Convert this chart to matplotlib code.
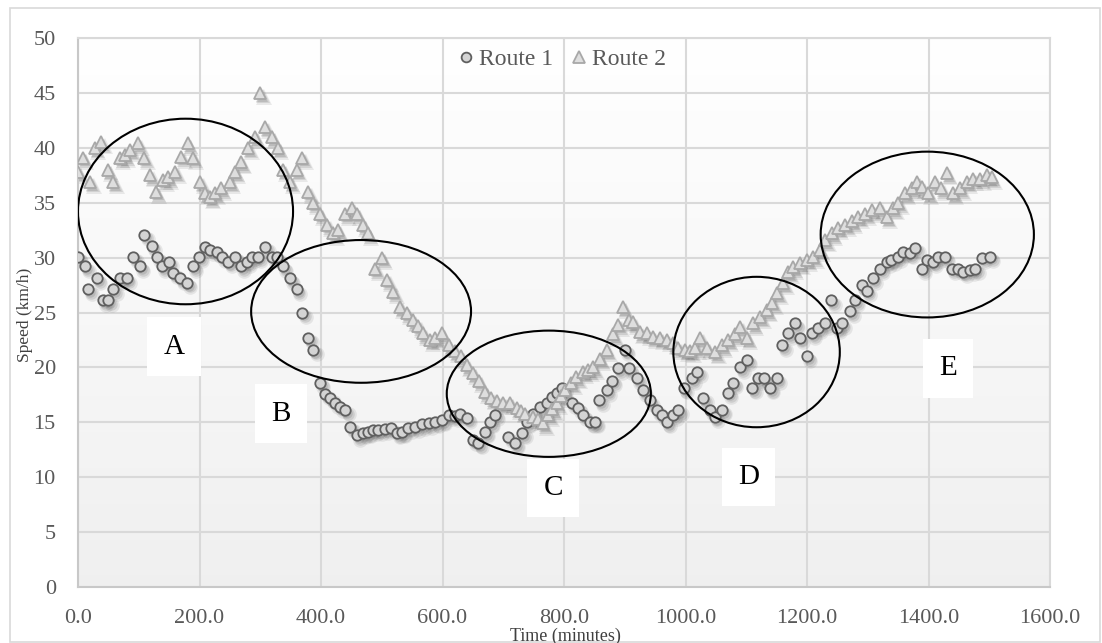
"""
speed profile of the two routes over the day
"""
import matplotlib

matplotlib.use("Agg")
import matplotlib.pyplot as plt
import matplotlib.transforms as mtransforms
import numpy as np
from matplotlib.lines import Line2D
from matplotlib.patches import Ellipse, Rectangle

# sample times (minutes) and speeds (km/h)
route1_time = [
    0, 12, 17, 31, 41, 50, 58, 69, 80, 91, 102, 109, 121, 130, 138, 149, 157,
    168, 179, 189, 199, 209, 217, 228, 237, 247, 258, 268, 278, 286, 296, 308,
    319, 327, 337, 349, 360, 369, 379, 387, 398, 407, 415, 423, 431, 440, 448,
    459, 469, 477, 486, 494, 505, 516, 525, 533, 544, 555, 566, 577, 588, 599,
    610, 620, 629, 640, 650, 659, 670, 678, 686, 708, 719, 731, 739, 749, 760,
    772, 780, 788, 797, 813, 823, 831, 843, 851, 858, 870, 879, 889, 900, 907,
    920, 930, 941, 953, 961, 969, 980, 988, 997, 1010, 1019, 1029, 1040, 1048,
    1060, 1070, 1078, 1090, 1101, 1110, 1119, 1130, 1139, 1150, 1159, 1169,
    1180, 1188, 1200, 1208, 1218, 1230, 1240, 1249, 1257, 1271, 1279, 1290,
    1298, 1308, 1320, 1331, 1339, 1349, 1358, 1369, 1378, 1389, 1397, 1407,
    1415, 1427, 1438, 1449, 1457, 1469, 1477, 1488, 1501,
]
route1_speed = [
    30.1, 29.2, 27.1, 28.1, 26.1, 26.1, 27.1, 28.1, 28.1, 30.1, 29.2, 32.1,
    31.1, 30.1, 29.2, 29.6, 28.6, 28.1, 27.7, 29.2, 30.1, 31.0, 30.7, 30.5,
    30.1, 29.6, 30.1, 29.2, 29.6, 30.1, 30.1, 31.0, 30.1, 30.1, 29.2, 28.1,
    27.1, 25.0, 22.7, 21.6, 18.6, 17.6, 17.2, 16.8, 16.4, 16.1, 14.6, 13.8,
    14.0, 14.1, 14.3, 14.3, 14.4, 14.5, 14.0, 14.1, 14.5, 14.6, 14.8, 14.9,
    15.0, 15.2, 15.7, 15.6, 15.8, 15.4, 13.4, 13.1, 14.1, 15.0, 15.7, 13.7,
    13.1, 14.0, 15.0, 15.8, 16.4, 16.8, 17.3, 17.7, 18.1, 16.8, 16.3, 15.7,
    15.0, 15.0, 17.0, 17.9, 18.8, 19.9, 21.6, 19.9, 19.0, 17.9, 17.0, 16.1,
    15.7, 15.0, 15.7, 16.1, 18.1, 19.0, 19.6, 17.2, 16.1, 15.5, 16.1, 17.7,
    18.6, 20.0, 20.7, 18.1, 19.0, 19.0, 18.1, 19.0, 22.0, 23.1, 24.0, 22.7,
    21.0, 23.1, 23.6, 24.0, 26.1, 23.6, 24.0, 25.1, 26.1, 27.5, 27.0, 28.1,
    29.0, 29.6, 29.8, 30.1, 30.5, 30.4, 30.9, 29.0, 29.8, 29.6, 30.1, 30.1,
    29.0, 29.0, 28.7, 28.9, 29.0, 30.0, 30.1,
]

route2_time = [
    0, 8, 20, 28, 38, 49, 58, 69, 77, 86, 99, 109, 119, 128, 140, 148, 160,
    170, 181, 189, 201, 209, 217, 225, 235, 250, 258, 268, 280, 291, 300, 308,
    319, 329, 337, 349, 360, 369, 379, 387, 398, 410, 420, 428, 440, 451, 459,
    469, 477, 489, 500, 509, 519, 530, 541, 551, 560, 568, 579, 588, 599, 610,
    620, 630, 640, 650, 660, 670, 680, 690, 700, 711, 722, 730, 736, 749, 758,
    766, 774, 781, 788, 795, 802, 812, 820, 831, 840, 848, 859, 870, 881, 889,
    897, 907, 914, 925, 936, 946, 958, 969, 980, 988, 999, 1008, 1016, 1024,
    1035, 1049, 1060, 1070, 1081, 1090, 1101, 1111, 1123, 1134, 1143, 1151,
    1161, 1169, 1177, 1188, 1200, 1210, 1221, 1230, 1241, 1251, 1263, 1274,
    1284, 1296, 1307, 1320, 1331, 1342, 1350, 1361, 1373, 1381, 1389, 1399,
    1410, 1421, 1430, 1440, 1452, 1463, 1473, 1485, 1496, 1504,
]
route2_speed = [
    37.8, 39.1, 36.9, 40.0, 40.5, 38.0, 36.9, 39.1, 39.3, 39.8, 40.4, 39.1,
    37.5, 36.0, 37.1, 37.3, 37.8, 39.2, 40.4, 39.1, 36.9, 35.9, 35.5, 35.9,
    36.3, 36.9, 37.8, 38.7, 40.0, 41.0, 45.0, 41.9, 41.0, 40.0, 38.0, 36.9,
    38.0, 39.1, 36.0, 35.0, 34.0, 33.0, 32.2, 32.5, 34.0, 34.5, 34.0, 33.0,
    32.2, 29.0, 30.0, 28.0, 26.9, 25.5, 25.0, 24.3, 23.8, 23.1, 22.5, 22.7,
    23.1, 22.0, 21.5, 21.0, 20.2, 19.5, 18.8, 17.8, 17.2, 16.9, 16.8, 16.8,
    16.3, 16.0, 15.8, 15.5, 15.3, 14.9, 15.7, 16.2, 16.8, 17.4, 17.9, 18.6,
    19.1, 19.6, 19.8, 20.0, 20.8, 21.6, 23.0, 23.9, 25.5, 24.3, 24.1, 23.2,
    23.1, 22.8, 22.7, 22.5, 22.2, 21.8, 21.6, 21.5, 21.8, 22.7, 21.8, 21.4,
    22.0, 22.5, 23.0, 23.7, 22.7, 24.0, 24.6, 25.2, 25.9, 26.8, 27.7, 28.7,
    29.1, 29.5, 29.8, 30.1, 30.7, 31.6, 32.2, 32.7, 33.0, 33.3, 33.7, 34.0,
    34.3, 34.5, 33.7, 34.5, 35.0, 35.9, 36.3, 36.9, 36.4, 35.9, 36.9, 36.3,
    37.7, 35.9, 36.3, 36.9, 37.2, 37.2, 37.5, 37.3,
]

# highlighted regions: label, centre (t, v), width, height, label position
region_names = ["A", "B", "C", "D", "E"]
region_centers = [(177, 34.2), (466, 25.1), (775, 17.6), (1117, 21.4), (1398, 32.1)]
region_sizes = [(354, 16.9), (362, 13.0), (336, 11.5), (274, 13.7), (351, 15.1)]
label_positions = [(158, 21.9), (334, 15.8), (782, 9.0), (1104, 10.0), (1432, 19.9)]

x_ticks = [0, 200, 400, 600, 800, 1000, 1200, 1400, 1600]
y_ticks = [0, 5, 10, 15, 20, 25, 30, 35, 40, 45, 50]

SERIF = ["Liberation Serif", "DejaVu Serif"]
TICK_GREY = "#595959"
GRID_GREY = "#d9d9d9"

plt.rcParams["font.family"] = SERIF

fig = plt.figure(figsize=(11.02, 6.43), dpi=100)
ax = fig.add_axes([78 / 1102, 1 - 587 / 643, 972 / 1102, 549 / 643])

# outer chart frame
fig.patches.append(
    Rectangle((10 / 1102, 0.002), 1090 / 1102, 1 - 8 / 643 - 0.002,
              transform=fig.transFigure, fill=False, edgecolor=GRID_GREY,
              linewidth=1.2)
)

# plot area shading, white at the top to light grey at the bottom
shade = np.linspace(1.0, 0.94, 256).reshape(-1, 1)
ax.imshow(np.dstack([shade, shade, shade]), extent=[0, 1, 0, 1],
          transform=ax.transAxes, aspect="auto", zorder=0)

ax.set_xlim(0, 1600)
ax.set_ylim(0, 50)
ax.set_xticks(x_ticks)
ax.set_yticks(y_ticks)
ax.set_xticklabels([f"{t:.1f}" for t in x_ticks])
ax.grid(True, color=GRID_GREY, linewidth=1.5, zorder=1)
ax.set_axisbelow(True)
ax.tick_params(length=0, labelsize=16, colors=TICK_GREY, pad=16)
for spine in ax.spines.values():
    spine.set_color(GRID_GREY)
    spine.set_linewidth(1.5)
ax.spines["left"].set_color("#c8c8c8")
ax.spines["bottom"].set_color("#c8c8c8")


def soft_shadow(t, v, marker, size):
    """Draw a blurred drop shadow under the markers"""
    for dx, dy, grow, alpha in [
        (2.5, -3.0, 3.0, 0.12), (2.0, -2.5, 1.5, 0.16), (1.5, -2.0, 0.0, 0.2)
    ]:
        offset = mtransforms.ScaledTranslation(dx / 72, dy / 72, fig.dpi_scale_trans)
        ax.plot(t, v, linestyle="none", marker=marker, markersize=size + grow,
                markerfacecolor="#606060", markeredgewidth=0, alpha=alpha,
                transform=ax.transData + offset, zorder=2)


soft_shadow(route1_time, route1_speed, "o", 7.5)
ax.plot(route1_time, route1_speed, linestyle="none", marker="o", markersize=7.5,
        markerfacecolor="#d4d4d4", markeredgecolor="#5f5f5f",
        markeredgewidth=1.3, zorder=3)

soft_shadow(route2_time, route2_speed, "^", 8.5)
ax.plot(route2_time, route2_speed, linestyle="none", marker="^", markersize=8.5,
        markerfacecolor="#dedede", markeredgecolor="#a8a8a8",
        markeredgewidth=1.3, zorder=4)

for name, (cx, cy), (w, h), (lx, ly) in zip(
    region_names, region_centers, region_sizes, label_positions
):
    ax.add_patch(Ellipse((cx, cy), w, h, fill=False, edgecolor="black",
                         linewidth=1.5, zorder=6))
    ax.text(lx, ly, name, fontsize=21, color="black", ha="center", va="center",
            zorder=7, bbox=dict(boxstyle="square,pad=0.55", facecolor="white",
                                edgecolor="none"))

handles = [
    Line2D([], [], linestyle="none", marker="o", markersize=7,
           markerfacecolor="#d4d4d4", markeredgecolor="#5f5f5f",
           markeredgewidth=1.3),
    Line2D([], [], linestyle="none", marker="^", markersize=8,
           markerfacecolor="#dedede", markeredgecolor="#a8a8a8",
           markeredgewidth=1.3),
]
ax.legend(handles, ["Route 1", "Route 2"], loc="upper center",
          bbox_to_anchor=(0.496, 1.02), ncol=2, frameon=False, fontsize=17,
          labelcolor=TICK_GREY, handletextpad=0.05, columnspacing=0.6,
          handlelength=1.0)

fig.text(565 / 1102, 1 - 636 / 643, "Time (minutes)", fontsize=13,
         color="#404040", ha="center", va="center")
fig.text(25 / 1102, 1 - 315 / 643, "Speed (km/h)", fontsize=12.5,
         color="#404040", ha="center", va="center", rotation=90)

fig.savefig("out.png", dpi=100)
